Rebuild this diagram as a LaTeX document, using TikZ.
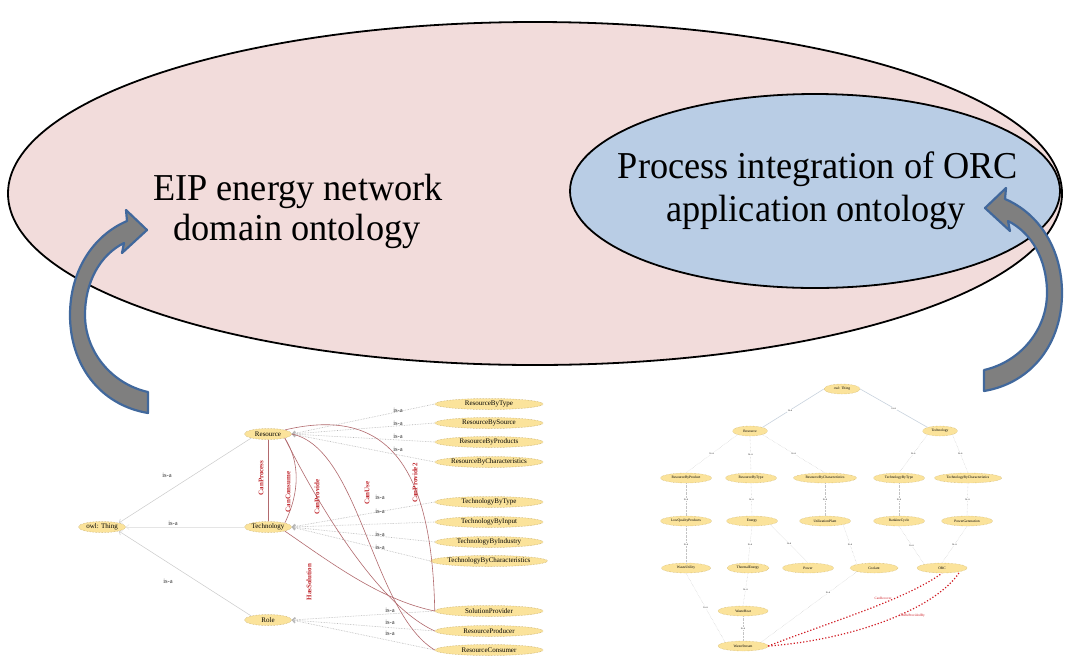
\documentclass[tikz,border=0pt]{standalone}
\usepackage{fontspec}
\setmainfont{Liberation Serif}
\newfontfamily\titleserif[FakeStretch=0.955]{Liberation Serif}
\usetikzlibrary{shapes.geometric,arrows.meta}

\definecolor{outerfill}{HTML}{F2DCDB}
\definecolor{innerfill}{HTML}{B9CDE5}
\definecolor{arrowfill}{HTML}{7F7F7F}
\definecolor{arrowline}{HTML}{41689C}
\definecolor{nodefill}{HTML}{FBE39B}
\definecolor{nodeline}{HTML}{C2A55A}
\definecolor{relline}{HTML}{B26A6E}
\definecolor{rellabel}{HTML}{C0262C}
\definecolor{isaline}{HTML}{B4B4B4}
\definecolor{faintline}{HTML}{C9D3DE}
\definecolor{reddot}{HTML}{D01C24}

\tikzset{
  arrowbody/.style={fill=arrowfill, draw=arrowline, line width=2.2pt, line join=round},
  ont/.style={ellipse, fill=nodefill, draw=nodeline, densely dotted, line width=0.5pt,
    inner sep=0pt, minimum height=11pt, text=black,
    font=\fontsize{7}{7}\selectfont},
  ontsmall/.style={ellipse, fill=nodefill, draw=nodeline, densely dotted, line width=0.4pt,
    inner sep=0pt, minimum height=10pt, text=black,
    font=\fontsize{3.6}{4}\selectfont},
  isa/.style={draw=isaline, densely dotted, line width=0.6pt},
  isasolid/.style={draw=isaline!70, line width=0.5pt},
  isalab/.style={font=\fontsize{6.5}{7}\selectfont, text=black!80, inner sep=0pt},
  isatiny/.style={font=\fontsize{3}{3}\selectfont, text=black!80, inner sep=0.5pt, fill=white},
  isasmall/.style={draw=isaline!80, densely dotted, line width=0.4pt},
  rel/.style={draw=relline, line width=0.6pt},
  rellab/.style={font=\fontsize{7}{7}\selectfont\bfseries, text=rellabel, rotate=90, inner sep=0pt},
  redcurve/.style={draw=reddot, line width=1.2pt, dotted},
  redlab/.style={font=\fontsize{3.4}{4}\selectfont, text=reddot, inner sep=0pt},
  titleline/.style={anchor=base, inner sep=0pt, font=\titleserif\fontsize{38}{38}\selectfont}
}

\begin{document}
\begin{tikzpicture}[x=1pt,y=-1pt]
\useasboundingbox[fill=white] (0,0) rectangle (1065,657);

% the two nested ontology scopes
\draw[fill=outerfill, line width=1.8pt] (535,193.5) ellipse [x radius=527, y radius=171.5];
\draw[fill=innerfill, line width=1.8pt] (815,191) ellipse [x radius=245, y radius=97];

\node[titleline] (domainA) at (298,200) {EIP energy network};
\node[titleline] (domainB) at (297,240) {domain ontology};
\node[titleline] (applA) at (818,178) {Process integration of ORC};
\node[titleline] (applB) at (816,221) {application ontology};

% bent block arrow into the domain ontology
\path[arrowbody] (127,221) .. controls (92,236) and (70,272) .. (70,315)
  .. controls (70,365) and (100,405) .. (148,413) -- (148,392)
  .. controls (112,384) and (85,352) .. (85,315)
  .. controls (85,282) and (100,255) .. (124,243)
  -- (122,253) -- (147,230) -- (126,210) -- cycle;

% bent block arrow into the application ontology
\path[arrowbody] (1005,199) .. controls (1040,214) and (1062,250) .. (1062,293)
  .. controls (1062,343) and (1032,383) .. (984,391) -- (984,370)
  .. controls (1020,362) and (1047,330) .. (1047,293)
  .. controls (1047,260) and (1032,233) .. (1008,221)
  -- (1010,231) -- (985,208) -- (1006,188) -- cycle;

% ---------------- domain ontology graph ----------------
\node[ont, minimum width=47pt] (thingL) at (102,527) {owl: Thing};
\node[ont, minimum width=47pt] (resL) at (268,434) {Resource};
\node[ont, minimum width=47pt] (techL) at (268,527) {Technology};
\node[ont, minimum width=47pt] (roleL) at (268,620) {Role};

\foreach \nm/\yy/\tx in {rbt/404/ResourceByType, rbs/423/ResourceBySource,
    rbp/442/ResourceByProducts, rbc/462/ResourceByCharacteristics,
    tbt/502/TechnologyByType, tbi/522/TechnologyByInput,
    tbind/542/TechnologyByIndustry, tbc/561/TechnologyByCharacteristics,
    sp/611/SolutionProvider, rp/631/ResourceProducer, rc/650/ResourceConsumer}
  \node[ont, minimum width=108pt] (\nm) at (489,\yy) {\tx};

% is-a links from owl: Thing
\draw[isasolid, {Straight Barb[length=3pt,width=5pt]}-] (thingL.north east) -- (resL.south west);
\draw[isasolid, draw=isaline!35, {Straight Barb[length=3pt,width=5pt]}-] (thingL.east) -- (techL.west);
\draw[isasolid, {Straight Barb[length=3pt,width=5pt]}-] (thingL.south east) -- (roleL.north west);
\node[isalab] (lt1) at (167,475) {is-a};
\node[isalab] (lt2) at (173,523) {is-a};
\node[isalab] (lt3) at (168,581) {is-a};

% is-a links to the sub-classes
\foreach \ch in {rbt,rbs,rbp,rbc}
  \draw[isa, {Straight Barb[length=3pt,width=5pt]}-] (resL.east) -- (\ch.west);
\foreach \ch in {tbt,tbi,tbind,tbc}
  \draw[isa, {Straight Barb[length=3pt,width=5pt]}-] (techL.east) -- (\ch.west);
\foreach \ch in {sp,rp,rc}
  \draw[isa, {Straight Barb[length=3pt,width=5pt]}-] (roleL.east) -- (\ch.west);

\foreach \yy [count=\i] in {410,423,436,449}
  \node[isalab] (lr\i) at (398,\yy) {is-a};
\foreach \yy [count=\i] in {497,511,534,547}
  \node[isalab] (ltc\i) at (380,\yy) {is-a};
\foreach \yy [count=\i] in {610,622,633}
  \node[isalab] (lro\i) at (390,\yy) {is-a};

% object properties
\draw[rel] (techL.north) -- (resL.south);
\draw[rel] (techL.north east) .. controls (300,492) and (300,462) .. (resL.south east);
\draw[rel] (resL.south east) .. controls (322,512) and (380,606) .. (rp.west);
\draw[rel] (resL.east) .. controls (360,448) and (372,612) .. (rc.west);
\draw[rel] (resL.north east) .. controls (390,405) and (432,470) .. (sp.west);
\draw[rel] (techL.south east) .. controls (330,562) and (380,600) .. (sp.west);

\node[rellab] (lcp) at (261,478) {CanProcess};
\node[rellab] (lcc) at (288,492) {CanConsume};
\node[rellab] (lcpv) at (317,497) {CanProvide};
\node[rellab] (lcu) at (367,493) {CanUse};
\node[rellab] (lcp2) at (415,483) {CanProvide2};
\node[rellab] (lhs) at (309,582) {HasSolution};

% ---------------- application ontology graph ----------------
\node[ontsmall, minimum width=36pt] (rthing) at (842,389) {owl: Thing};
\node[ontsmall, minimum width=35pt] (rres) at (750,431) {Resource};
\node[ontsmall, minimum width=35pt] (rtech) at (940,431) {Technology};

\node[ontsmall, minimum width=51pt] (r3a) at (686,478) {ResourceByProduct};
\node[ontsmall, minimum width=51pt] (r3b) at (751,478) {ResourceByType};
\node[ontsmall, minimum width=63pt] (r3c) at (825,478) {ResourceByCharacteristics};
\node[ontsmall, minimum width=51pt] (r3d) at (899,478) {TechnologyByType};
\node[ontsmall, minimum width=67pt] (r3e) at (968,478) {TechnologyByCharacteristics};

\node[ontsmall, minimum width=51pt] (r4a) at (686,521) {LowQualityProducts};
\node[ontsmall, minimum width=51pt] (r4b) at (752,521) {Energy};
\node[ontsmall, minimum width=51pt] (r4c) at (825,521) {UtilizationPlant};
\node[ontsmall, minimum width=51pt] (r4d) at (899,521) {RankineCycle};
\node[ontsmall, minimum width=51pt] (r4e) at (967,521) {PowerGeneration};

\node[ontsmall, minimum width=49pt] (r5a) at (686,568) {WasteUtility};
\node[ontsmall, minimum width=42pt] (r5b) at (748,568) {ThermalEnergy};
\node[ontsmall, minimum width=51pt] (r5c) at (808,568) {Power};
\node[ontsmall, minimum width=48pt] (r5d) at (874,568) {Coolant};
\node[ontsmall, minimum width=50pt] (r5e) at (942,568) {ORC};

\node[ontsmall, minimum width=50pt] (r6) at (743,611) {WasteHeat};
\node[ontsmall, minimum width=50pt] (r7) at (743,646) {WasteStream};

\draw[draw=faintline, line width=0.6pt] (rthing.west) -- node[isatiny, pos=0.55] {is-a} (rres.north east);
\draw[draw=faintline, line width=0.6pt] (rthing.east) -- node[isatiny, pos=0.5] {is-a} (rtech.north west);

\draw[isasmall] (rres.south west) -- node[isatiny] {is-a} (r3a.north);
\draw[isasmall] (rres.south) -- node[isatiny] {is-a} (r3b.north);
\draw[isasmall] (rres.south east) -- node[isatiny] {is-a} (r3c.north);
\draw[isasmall] (rtech.south west) -- node[isatiny] {is-a} (r3d.north);
\draw[isasmall] (rtech.south east) -- node[isatiny] {is-a} (r3e.north);

\draw[isasmall] (r3a.south) -- node[isatiny] {is-a} (r4a.north);
\draw[isasmall] (r3b.south) -- node[isatiny] {is-a} (r4b.north);
\draw[isasmall] (r3c.south) -- node[isatiny] {is-a} (r4c.north);
\draw[isasmall] (r3d.south) -- node[isatiny] {is-a} (r4d.north);
\draw[isasmall] (r3e.south) -- node[isatiny] {is-a} (r4e.north);

\draw[isasmall] (r4a.south) -- node[isatiny] {is-a} (r5a.north);
\draw[isasmall] (r4b.south) -- node[isatiny] {is-a} (r5b.north);
\draw[isasmall] (r4b.south east) -- node[isatiny] {is-a} (r5c.north);
\draw[isasmall] (r4c.south east) -- node[isatiny] {is-a} (r5d.north west);
\draw[isasmall] (r4d.south) -- node[isatiny] {is-a} (r5e.north west);
\draw[isasmall] (r4e.south) -- node[isatiny] {is-a} (r5e.north);

\draw[isasmall] (r5a.south) -- node[isatiny] {is-a} (r7.north west);
\draw[isasmall] (r5b.south) -- node[isatiny] {is-a} (r6.north);
\draw[isasmall] (r6.south) -- node[isatiny] {is-a} (r7.north);
\draw[isasmall] (r5d.south west) -- node[isatiny, pos=0.3] {is-a} (r7.north east);

\draw[redcurve] (r7.east) .. controls (830,622) and (905,600) .. (r5e.south);
\draw[redcurve] (r7.east) .. controls (850,640) and (935,610) .. (r5e.south east);
\node[redlab] (lrec) at (883,598) {CanRecover};
\node[redlab] (lbp) at (912,616) {CanBeProvidedBy};
\end{tikzpicture}
\end{document}
